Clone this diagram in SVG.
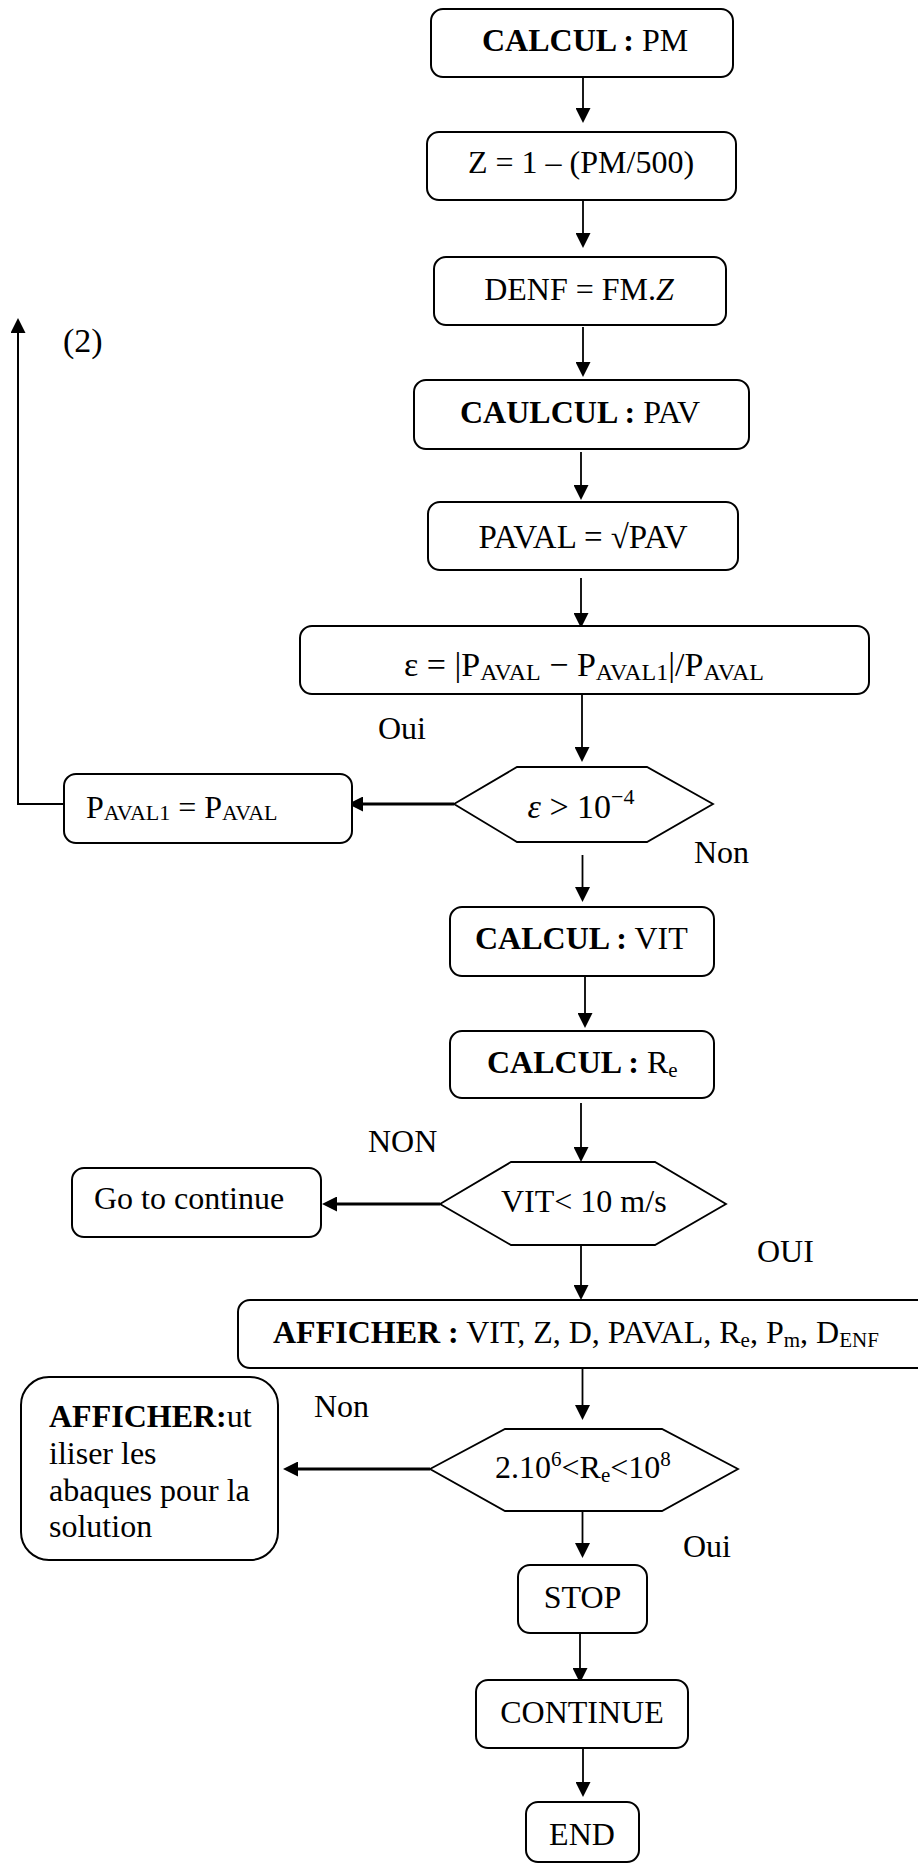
<svg xmlns="http://www.w3.org/2000/svg" width="918" height="1865" viewBox="0 0 918 1865">
<style>
.bg{fill:#fff}
.box{fill:#fff;stroke:#000;stroke-width:2}
.hex{fill:#fff;stroke:#000;stroke-width:1.8}
.t{font-family:"Liberation Serif","Times New Roman",serif;font-size:32px;fill:#000}
.b{font-weight:bold}
.m{text-anchor:middle}
.c{fill:none;stroke:#000;stroke-width:1.8}
.ch{stroke-width:3}
.cl{stroke-width:2}
</style>
<defs>
<marker id="ah" viewBox="0 0 15 15" markerWidth="15" markerHeight="15" markerUnits="userSpaceOnUse" refX="7" refY="7.5" orient="auto">
<path d="M0,0 L15,7.5 L0,15 Z" fill="#000"/>
</marker>
</defs>
<rect class="bg" x="0" y="0" width="918" height="1865"/>

<g id="connectors">
<path class="c" d="M583,70 V115" marker-end="url(#ah)"/>
<path class="c" d="M583,200 V240" marker-end="url(#ah)"/>
<path class="c" d="M583,327 V369" marker-end="url(#ah)"/>
<path class="c" d="M581,452 V492" marker-end="url(#ah)"/>
<path class="c" d="M581,578 V620" marker-end="url(#ah)"/>
<path class="c" d="M582,694 V754" marker-end="url(#ah)"/>
<path class="c" d="M582.5,855 V894" marker-end="url(#ah)"/>
<path class="c" d="M585,976 V1020" marker-end="url(#ah)"/>
<path class="c" d="M581,1103 V1154" marker-end="url(#ah)"/>
<path class="c" d="M581,1245 V1292" marker-end="url(#ah)"/>
<path class="c" d="M582.5,1368 V1412" marker-end="url(#ah)"/>
<path class="c" d="M582.5,1511 V1550" marker-end="url(#ah)"/>
<path class="c" d="M580,1633 V1675" marker-end="url(#ah)"/>
<path class="c" d="M583,1748 V1789" marker-end="url(#ah)"/>
<path class="c ch" d="M454,804 H356" marker-end="url(#ah)"/>
<path class="c ch" d="M440,1204 H330" marker-end="url(#ah)"/>
<path class="c ch" d="M430,1469 H291" marker-end="url(#ah)"/>
<path class="c cl" d="M64,804 H18 V326" marker-end="url(#ah)"/>
</g>

<g id="labels">
<text class="t" x="63" y="352" style="font-size:34px">(2)</text>
<text class="t" x="378" y="739">Oui</text>
<text class="t" x="694" y="863">Non</text>
<text class="t" x="368" y="1152">NON</text>
<text class="t" x="757" y="1262">OUI</text>
<text class="t" x="314" y="1417">Non</text>
<text class="t" x="683" y="1557">Oui</text>
</g>

<g id="n1">
<rect class="box" x="431" y="9" width="302" height="68" rx="12"/>
<text class="t" x="482" y="51"><tspan class="b">CALCUL :</tspan> PM</text>
</g>
<g id="n2">
<rect class="box" x="427" y="132" width="309" height="68" rx="12"/>
<text class="t" x="468" y="173">Z = 1 – (PM/500)</text>
</g>
<g id="n3">
<rect class="box" x="434" y="257" width="292" height="68" rx="12"/>
<text class="t m" x="579" y="300">DENF = FM.<tspan font-style="italic">Z</tspan></text>
</g>
<g id="n4">
<rect class="box" x="414" y="380" width="335" height="69" rx="12"/>
<text class="t" x="460" y="423"><tspan class="b">CAULCUL :</tspan> PAV</text>
</g>
<g id="n5">
<rect class="box" x="428" y="502" width="310" height="68" rx="12"/>
<text class="t m" x="583" y="548" style="font-size:33px">PAVAL = √PAV</text>
</g>
<g id="n6">
<rect class="box" x="300" y="626" width="569" height="68" rx="12"/>
<text class="t m" x="584" y="676" style="font-size:34px">ε = |P<tspan font-size="24" dy="4">AVAL</tspan><tspan dy="-4"> − P</tspan><tspan font-size="24" dy="4">AVAL1</tspan><tspan dy="-4">|/P</tspan><tspan font-size="24" dy="4">AVAL</tspan></text>
</g>
<g id="n7">
<path class="hex" d="M454,804 L517,767 L647,767 L713,804 L647,842 L517,842 Z"/>
<text class="t m" x="581" y="818" style="font-size:34px"><tspan font-style="italic">ε</tspan> &gt; 10<tspan font-size="22" dy="-14">−4</tspan></text>
</g>
<g id="n8">
<rect class="box" x="64" y="774" width="288" height="69" rx="12"/>
<text class="t" x="86" y="818">P<tspan font-size="22" dy="2">AVAL1</tspan><tspan dy="-2"> = P</tspan><tspan font-size="22" dy="2">AVAL</tspan></text>
</g>
<g id="n9">
<rect class="box" x="450" y="907" width="264" height="69" rx="12"/>
<text class="t" x="475" y="949"><tspan class="b">CALCUL :</tspan> VIT</text>
</g>
<g id="n10">
<rect class="box" x="450" y="1031" width="264" height="67" rx="12"/>
<text class="t" x="487" y="1073"><tspan class="b">CALCUL :</tspan> R<tspan font-size="21" dy="4">e</tspan></text>
</g>
<g id="n11">
<path class="hex" d="M440,1204 L511,1162 L655,1162 L726,1204 L655,1245 L511,1245 Z"/>
<text class="t" x="501" y="1212">VIT&lt; 10 m/s</text>
</g>
<g id="n12">
<rect class="box" x="72" y="1168" width="249" height="69" rx="12"/>
<text class="t" x="94" y="1209">Go to continue</text>
</g>
<g id="n13">
<rect class="box" x="238" y="1300" width="720" height="68" rx="12"/>
<text class="t" x="273" y="1343"><tspan class="b">AFFICHER :</tspan> VIT, Z, D, PAVAL, R<tspan font-size="21" dy="4">e</tspan><tspan dy="-4">, P</tspan><tspan font-size="21" dy="4">m</tspan><tspan dy="-4">, D</tspan><tspan font-size="21" dy="4">ENF</tspan></text>
</g>
<g id="n14">
<rect class="box" x="21" y="1377" width="257" height="183" rx="28"/>
<text class="t" x="49" y="1427"><tspan class="b">AFFICHER:</tspan>ut</text>
<text class="t" x="49" y="1464">iliser les</text>
<text class="t" x="49" y="1501">abaques pour la</text>
<text class="t" x="49" y="1537">solution</text>
</g>
<g id="n15">
<path class="hex" d="M430,1469 L505,1429 L662,1429 L738,1469 L662,1511 L505,1511 Z"/>
<text class="t" x="495" y="1478">2.10<tspan font-size="21" dy="-12">6</tspan><tspan dy="12">&lt;R</tspan><tspan font-size="21" dy="4">e</tspan><tspan dy="-4">&lt;10</tspan><tspan font-size="21" dy="-12">8</tspan></text>
</g>
<g id="n16">
<rect class="box" x="518" y="1565" width="129" height="68" rx="12"/>
<text class="t m" x="582.5" y="1608">STOP</text>
</g>
<g id="n17">
<rect class="box" x="476" y="1680" width="212" height="68" rx="12"/>
<text class="t m" x="582" y="1723">CONTINUE</text>
</g>
<g id="n18">
<rect class="box" x="526" y="1802" width="113" height="60" rx="12"/>
<text class="t m" x="582" y="1845">END</text>
</g>
</svg>
